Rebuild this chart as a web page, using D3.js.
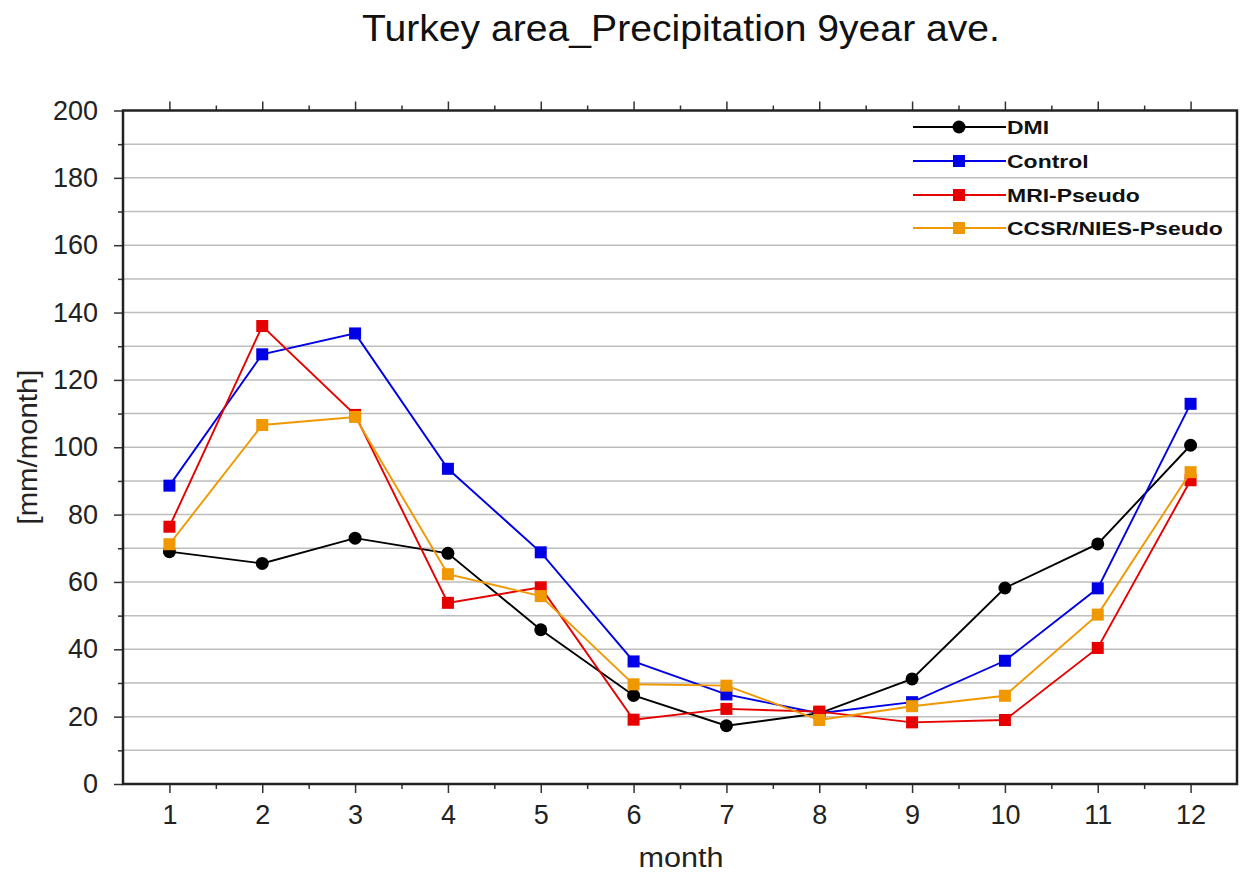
<!DOCTYPE html>
<html><head><meta charset="utf-8">
<script src="https://cdn.jsdelivr.net/npm/d3@7"></script>
<style>body{margin:0;background:#fff}svg{display:block}text{font-family:"Liberation Sans",Arial,sans-serif}</style>
</head><body>
<svg id="c" width="1240" height="872"></svg>
<script>
const months = [1,2,3,4,5,6,7,8,9,10,11,12];
const dmi     = [69, 65.5, 73, 68.5, 45.8, 26.3, 17.3, 21, 31.2, 58.2, 71.3, 100.6];
const control = [88.6, 127.6, 133.8, 93.6, 68.8, 36.4, 26.6, 21, 24.3, 36.6, 58.1, 112.9];
const mri     = [76.4, 136, 109.6, 53.8, 58.4, 19.1, 22.3, 21.5, 18.3, 19, 40.4, 90.2];
const ccsr    = [71.2, 106.6, 109, 62.3, 55.8, 29.6, 29.2, 19, 23.1, 26.2, 50.3, 92.6];
const seriesNames = ["DMI","Control","MRI-Pseudo","CCSR/NIES-Pseudo"];
const seriesColors = ["#000000","#0000e6","#e60000","#f09800"];
const yTicks = [0,20,40,60,80,100,120,140,160,180,200];

const svg = d3.select("#c");
const L=123, R=1237, T=110.5, B=784;
const x = d3.scaleLinear().domain([0.5,12.5]).range([L,R]);
const y = d3.scaleLinear().domain([0,200]).range([B,T]);

svg.append("g").selectAll("line").data(d3.range(10,200,10)).join("line")
  .attr("x1",L).attr("x2",R).attr("y1",d=>y(d)).attr("y2",d=>y(d))
  .attr("stroke","#bdbdbd").attr("stroke-width",1.5);

const yAxis = d3.axisLeft(y).tickValues(yTicks).tickSize(9).tickPadding(16);
svg.append("g").attr("transform",`translate(${L},0)`).call(yAxis);
svg.append("g").attr("transform",`translate(${L},0)`).call(d3.axisLeft(y).tickValues(d3.range(10,200,20)).tickSize(5).tickFormat(""));

const xAxis = d3.axisBottom(x).tickValues(months).tickSize(9).tickPadding(12).tickFormat(d3.format("d"));
svg.append("g").attr("transform",`translate(0,${B})`).call(xAxis);
svg.append("g").attr("transform",`translate(0,${B})`).call(d3.axisBottom(x).tickValues(d3.range(1.5,12,1)).tickSize(5).tickFormat(""));
svg.append("g").attr("transform",`translate(0,${T})`).call(d3.axisTop(x).tickValues(months).tickSize(9).tickFormat(""));
svg.append("g").attr("transform",`translate(0,${T})`).call(d3.axisTop(x).tickValues(d3.range(1.5,12,1)).tickSize(5).tickFormat(""));

svg.selectAll(".domain").remove();
svg.selectAll(".tick line").attr("stroke","#333").attr("stroke-width",1.5);
svg.selectAll(".tick text").attr("font-size",27).attr("fill","#222");

svg.append("rect").attr("x",L).attr("y",T).attr("width",R-L).attr("height",B-T)
  .attr("fill","none").attr("stroke","#222").attr("stroke-width",2.5);

const all = [dmi, control, mri, ccsr];
const line = d3.line().x((d,i)=>x(months[i])).y(d=>y(d));
all.forEach((s,k)=>{
  const g = svg.append("g");
  g.append("path").attr("d",line(s)).attr("fill","none").attr("stroke",seriesColors[k]).attr("stroke-width",1.9);
  if(k===0){
    g.selectAll("circle").data(s).join("circle").attr("cx",(d,i)=>x(months[i])).attr("cy",d=>y(d)).attr("r",6.5).attr("fill",seriesColors[k]);
  } else {
    g.selectAll("rect").data(s).join("rect").attr("x",(d,i)=>x(months[i])-6).attr("y",d=>y(d)-6).attr("width",12).attr("height",12).attr("fill",seriesColors[k]);
  }
});

const legY = [127,161,195,228];
seriesNames.forEach((n,k)=>{
  const g = svg.append("g");
  g.append("line").attr("x1",913).attr("x2",1006).attr("y1",legY[k]).attr("y2",legY[k]).attr("stroke",seriesColors[k]).attr("stroke-width",1.9);
  if(k===0) g.append("circle").attr("cx",959).attr("cy",legY[k]).attr("r",6.5).attr("fill",seriesColors[k]);
  else g.append("rect").attr("x",953).attr("y",legY[k]-6).attr("width",12).attr("height",12).attr("fill",seriesColors[k]);
  g.append("text").attr("transform",`translate(1007,${legY[k]}) scale(1.21,1)`).attr("dy","0.36em").attr("font-size",19).attr("font-weight","bold").attr("fill","#111").text(n);
});

svg.append("text").attr("x",681).attr("y",41).attr("text-anchor","middle").attr("font-size",37).attr("textLength",638).attr("lengthAdjust","spacingAndGlyphs").attr("fill","#111").text("Turkey area_Precipitation 9year ave.");
svg.append("text").attr("x",681).attr("y",867).attr("text-anchor","middle").attr("font-size",27).attr("textLength",85).attr("lengthAdjust","spacingAndGlyphs").attr("fill","#222").text("month");
svg.append("text").attr("transform","translate(37,447) rotate(-90)").attr("text-anchor","middle").attr("font-size",27).attr("textLength",155).attr("lengthAdjust","spacingAndGlyphs").attr("fill","#222").text("[mm/month]");
</script>
</body></html>
